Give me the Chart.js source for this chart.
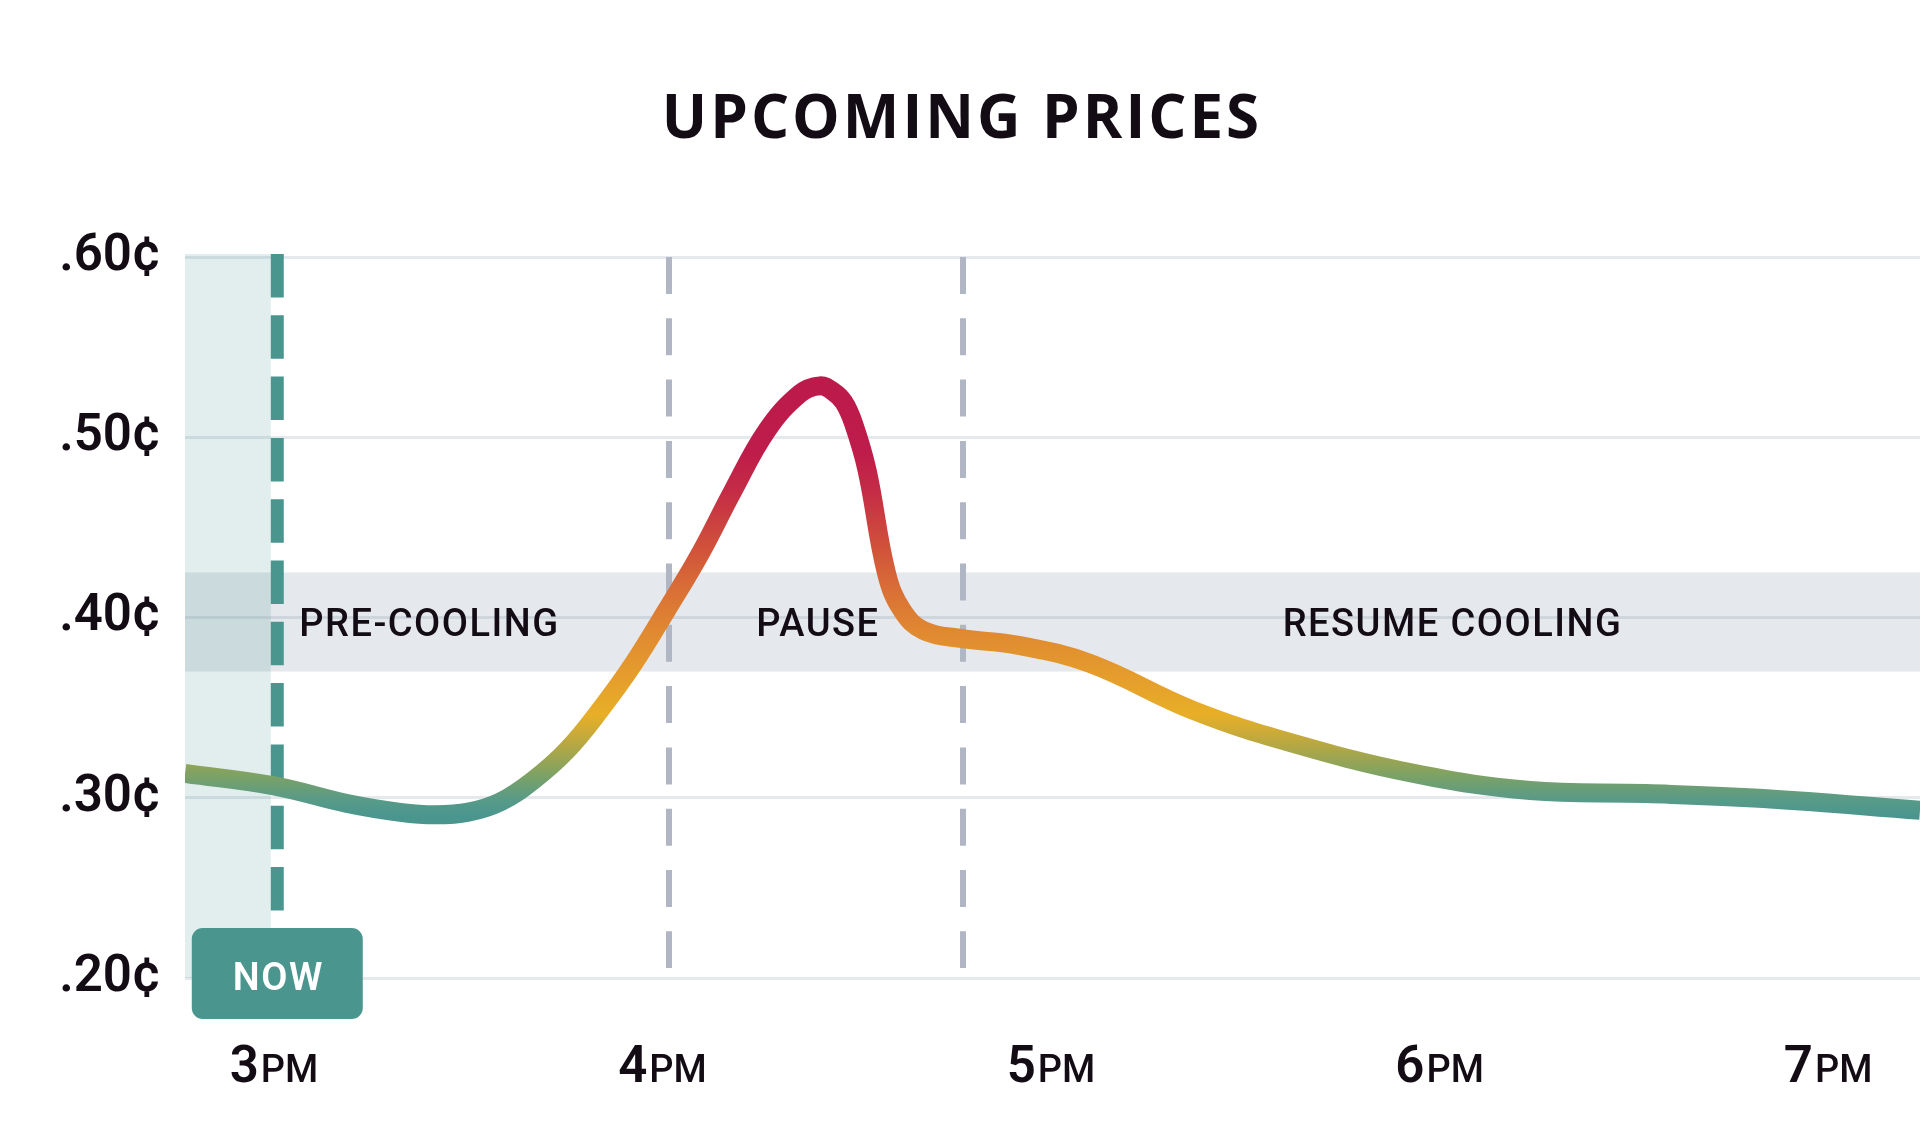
<!DOCTYPE html>
<html>
<head>
<meta charset="utf-8">
<script src="https://cdn.jsdelivr.net/npm/chart.js@4.4.1/dist/chart.umd.min.js"></script>
<style>
html,body{margin:0;padding:0;background:#ffffff;}
#wrap{width:1920px;height:1134px;position:relative;}
</style>
</head>
<body>
<div id="wrap"><canvas id="c" width="1920" height="1134"></canvas></div>
<script>
// ---- data (x = minutes after 3 PM, y = price) ----
const titleText = 'UPCOMING PRICES';
const minutes = [-13.75, 0, 11.3, 19.5, 25, 30, 35, 40, 45.2, 50.3, 55.5, 60.6, 65.8, 70.9, 76.1, 81.2, 84.3, 86.3, 88, 89.5, 91.6, 94.6, 97, 100.3, 106, 115, 126, 142, 157, 176, 194, 212, 230, 254.2];
const prices  = [0.3135, 0.3066, 0.2968, 0.2919, 0.2905, 0.2920, 0.2978, 0.3096, 0.3262, 0.3484, 0.3743, 0.4039, 0.4353, 0.4705, 0.5037, 0.5241, 0.5285, 0.5255, 0.5195, 0.5076, 0.4815, 0.4244, 0.4040, 0.3928, 0.3884, 0.3845, 0.3745, 0.3484, 0.3306, 0.3135, 0.3040, 0.3023, 0.2996, 0.2930];
const hourTicks = [0, 60, 120, 180, 240];
const hourLabels = ['3', '4', '5', '6', '7'];
const hourSuffix = 'PM';
const yTicks = [0.2, 0.3, 0.4, 0.5, 0.6];
const yTickLabels = ['.20¢', '.30¢', '.40¢', '.50¢', '.60¢'];
const nowMinute = 0.5;
const nowLabel = 'NOW';
const phaseBoundaries = [61, 106.4];
const phaseLabels = ['PRE-COOLING', 'PAUSE', 'RESUME COOLING'];
const phaseLabelMinutes = [24, 84, 182];
const comfortBand = [0.37, 0.425];
const xRange = [-13.75, 254.2];
const yRange = [0.2, 0.6];

// ---- styles ----
const INK = '#140c14';
const TEAL = '#4a968f';
const gradStops = [
  [0.290, '#4a968f'], [0.300, '#5a9b86'], [0.313, '#7ea263'], [0.328, '#b2a746'],
  [0.346, '#e8af27'], [0.372, '#e4992d'], [0.392, '#e08931'],
  [0.412, '#da7335'], [0.440, '#d0503b'], [0.470, '#c42c45'], [0.492, '#be1c4a'], [0.530, '#bc1a4a']
];

function lineGradient(context) {
  const chart = context.chart;
  const ca = chart.chartArea;
  if (!ca) return TEAL;
  const ys = chart.scales.y;
  const lo = gradStops[0][0], hi = gradStops[gradStops.length - 1][0];
  const g = chart.ctx.createLinearGradient(0, ys.getPixelForValue(lo), 0, ys.getPixelForValue(hi));
  gradStops.forEach(([v, c]) => g.addColorStop((v - lo) / (hi - lo), c));
  return g;
}

const decor = {
  id: 'decor',
  beforeDatasetsDraw(chart) {
    const { ctx, chartArea: ca, scales: { x, y } } = chart;
    ctx.save();
    // comfort band
    const bt = y.getPixelForValue(comfortBand[1]);
    const bb = y.getPixelForValue(comfortBand[0]);
    ctx.fillStyle = 'rgba(110,125,150,0.18)';
    ctx.fillRect(ca.left, bt, ca.right - ca.left, bb - bt);
    // past shading
    const nx = x.getPixelForValue(nowMinute);
    ctx.fillStyle = 'rgba(74,150,143,0.165)';
    ctx.fillRect(ca.left, ca.top - 3, nx - 6.5 - ca.left, ca.bottom - ca.top + 3);
    // phase labels
    ctx.fillStyle = INK;
    ctx.font = '500 38px Roboto';
    ctx.textAlign = 'center';
    ctx.textBaseline = 'alphabetic';
    try { ctx.letterSpacing = '1.5px'; } catch (e) {}
    const bandMid = (bt + bb) / 2;
    phaseLabels.forEach((t, i) => {
      ctx.fillText(t, x.getPixelForValue(phaseLabelMinutes[i]), bandMid + 14);
    });
    try { ctx.letterSpacing = '0px'; } catch (e) {}
    // phase boundaries
    ctx.strokeStyle = '#b0b6c3';
    ctx.lineWidth = 6;
    ctx.setLineDash([37, 24.3]);
    phaseBoundaries.forEach(m => {
      const px = x.getPixelForValue(m);
      ctx.beginPath();
      ctx.moveTo(px, ca.top);
      ctx.lineTo(px, ca.bottom - 10);
      ctx.stroke();
    });
    // now line
    ctx.strokeStyle = TEAL;
    ctx.lineWidth = 13;
    ctx.setLineDash([43.5, 17.8]);
    ctx.beginPath();
    ctx.moveTo(nx, ca.top - 3);
    ctx.lineTo(nx, ca.bottom - 50);
    ctx.stroke();
    ctx.restore();
  },
  afterDraw(chart) {
    const { ctx, chartArea: ca, scales: { x, y } } = chart;
    ctx.save();
    // NOW badge
    const nx = x.getPixelForValue(nowMinute);
    const bw = 171, bh = 91, top = ca.bottom - 50;
    ctx.fillStyle = TEAL;
    ctx.beginPath();
    ctx.roundRect(nx - bw / 2, top, bw, bh, 11);
    ctx.fill();
    ctx.fillStyle = '#ffffff';
    ctx.font = '600 38px Roboto';
    ctx.textAlign = 'center';
    ctx.textBaseline = 'alphabetic';
    try { ctx.letterSpacing = '1.5px'; } catch (e) {}
    ctx.fillText(nowLabel, nx + 1, ca.bottom + 12);
    try { ctx.letterSpacing = '0px'; } catch (e) {}
    // hour labels
    ctx.fillStyle = INK;
    ctx.textAlign = 'left';
    const base = ca.bottom + 104;
    const f1 = '600 51px Roboto', f2 = '500 38px Roboto';
    hourTicks.forEach((m, i) => {
      const cx = x.getPixelForValue(m);
      ctx.font = f1;
      const w1 = ctx.measureText(hourLabels[i]).width;
      ctx.font = f2;
      const w2 = ctx.measureText(hourSuffix).width;
      const sx = cx - (w1 + w2 + 2) / 2;
      ctx.font = f1;
      ctx.fillText(hourLabels[i], sx, base);
      ctx.font = f2;
      ctx.fillText(hourSuffix, sx + w1 + 2, base);
    });
    // title
    ctx.textAlign = 'center';
    ctx.font = '700 60px "Open Sans"';
    try { ctx.letterSpacing = '3px'; } catch (e) {}
    ctx.fillText(titleText, 962, 138);
    ctx.restore();
  }
};

new Chart(document.getElementById('c'), {
  type: 'line',
  data: {
    datasets: [{
      data: minutes.map((m, i) => ({ x: m, y: prices[i] })),
      borderColor: lineGradient,
      borderWidth: 19,
      borderCapStyle: 'butt',
      borderJoinStyle: 'round',
      tension: 0.4,
      pointRadius: 0,
      fill: false
    }]
  },
  options: {
    responsive: false,
    devicePixelRatio: 1,
    animation: false,
    layout: { padding: { top: 257, bottom: 156, left: 0, right: 0 } },
    plugins: { legend: { display: false }, tooltip: { enabled: false }, title: { display: false } },
    scales: {
      x: { type: 'linear', min: xRange[0], max: xRange[1], display: false },
      y: {
        min: yRange[0], max: yRange[1],
        afterBuildTicks: s => { s.ticks = yTicks.map(v => ({ value: v })); },
        afterFit: s => { s.width = 185; },
        ticks: {
          padding: 24,
          color: INK,
          font: { family: 'Roboto', size: 51, weight: '600' },
          callback: v => yTickLabels[yTicks.findIndex(t => Math.abs(t - v) < 1e-6)]
        },
        grid: { color: '#e5e8ed', lineWidth: 3, drawTicks: false },
        border: { display: false }
      }
    }
  },
  plugins: [decor]
});
</script>
</body>
</html>
